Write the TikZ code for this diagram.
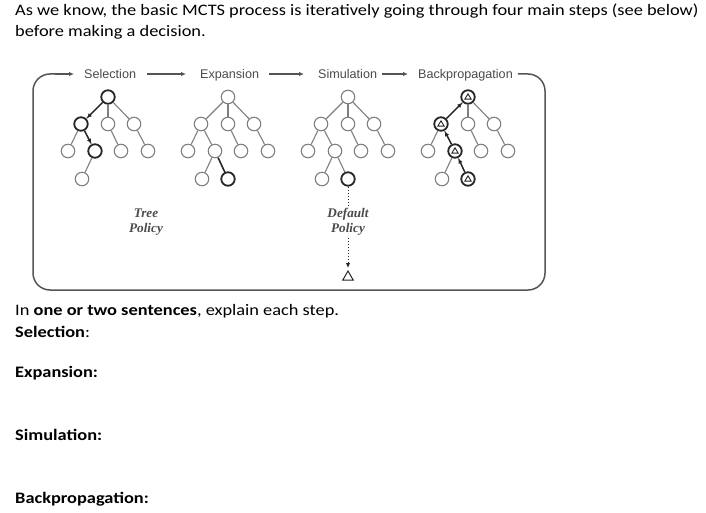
\documentclass[tikz,border=0pt]{standalone}
\usepackage{fontspec}
\setmainfont{Carlito}[FakeStretch=1.148]
\newfontfamily\labfont{Liberation Sans}
\newfontfamily\polfont{Liberation Serif}
\usetikzlibrary{arrows.meta,shapes.geometric}
\definecolor{framegray}{HTML}{555555}
\definecolor{nodegray}{HTML}{808080}
\definecolor{labgray}{HTML}{4A4A4A}
\tikzset{
  tn/.style={circle,draw=nodegray,line width=1.1pt,minimum size=13.5pt,inner sep=0pt,fill=white},
  tb/.style={circle,draw=black!85,line width=1.8pt,minimum size=13.5pt,inner sep=0pt,fill=white},
  te/.style={draw=nodegray,line width=1.1pt},
  tbe/.style={draw=black!85,line width=1.6pt},
  tarr/.style={draw=black!85,line width=1.4pt,-{Latex[length=5pt,width=4.5pt]}},
  frame/.style={draw=framegray,line width=1.5pt},
  farr/.style={draw=framegray,line width=1.3pt,-{Latex[length=5pt,width=4.5pt]}},
  lab/.style={font=\labfont\fontsize{12.6}{14}\selectfont,text=labgray,inner sep=0pt,anchor=base west},
  pol/.style={font=\polfont\bfseries\itshape\fontsize{13.2}{15}\selectfont,text=labgray,align=center,inner sep=1pt},
  txt/.style={font=\fontsize{16}{19}\selectfont,inner sep=0pt,anchor=base west},
  tri/.style={draw=black!85,line width=0.9pt}
}
\newcommand\mtree[5]{%
  \node[#3] (#1r) at (#2,97) {};
  \node[#4] (#1a) at (#2-27,124) {};
  \node[tn] (#1b) at (#2,124) {};
  \node[tn] (#1c) at (#2+26,124) {};
  \node[tn] (#1d) at (#2-40,151) {};
  \node[#5] (#1e) at (#2-13,151) {};
  \node[tn] (#1f) at (#2+13,151) {};
  \node[tn] (#1g) at (#2+40,151) {};
  \node[tn] (#1h) at (#2-26,179) {};
  \draw[te] (#1r) -- (#1a);
  \draw[te] (#1r) -- (#1b);
  \draw[te] (#1r) -- (#1c);
  \draw[te] (#1a) -- (#1d);
  \draw[te] (#1a) -- (#1e);
  \draw[te] (#1b) -- (#1f);
  \draw[te] (#1c) -- (#1g);
  \draw[te] (#1e) -- (#1h);
}
\newcommand\intri[1]{\draw[tri] ([yshift=3.2pt]#1.center) -- ++(3.2,5.4) -- ++(-6.4,0) -- cycle;}
\begin{document}
\begin{tikzpicture}[x=1pt,y=-1pt]
\useasboundingbox (0,0) rectangle (706,513);
% main text
\node[txt] (t1) at (15,16) {As we know, the basic MCTS process is iteratively going through four main steps (see below)};
\node[txt] (t2) at (15,37) {before making a decision.};
\node[txt] (t3) at (15,315) {In \textbf{one or two sentences}, explain each step.};
\node[txt] (t4) at (15,337) {\textbf{Selection}:};
\node[txt] (t5) at (15,377) {\textbf{Expansion:}};
\node[txt] (t6) at (15,440) {\textbf{Simulation:}};
\node[txt] (t7) at (15,503) {\textbf{Backpropagation:}};
% labels
\node[lab] (lsel) at (84,78.5) {Selection};
\node[lab] (lexp) at (200,78.5) {Expansion};
\node[lab] (lsim) at (318,78.5) {Simulation};
\node[lab] (lbak) at (418,78.5) {Backpropagation};
\draw[farr] ([xshift=11pt,yshift=4.5pt]lsel.base east) -- ([xshift=-14pt,yshift=4.5pt]lexp.base west);
\draw[farr] ([xshift=10pt,yshift=4.5pt]lexp.base east) -- ([xshift=-14pt,yshift=4.5pt]lsim.base west);
\draw[farr] ([xshift=5pt,yshift=4.5pt]lsim.base east) -- ([xshift=-10pt,yshift=4.5pt]lbak.base west);
\draw[frame,rounded corners=17pt] ([xshift=5pt,yshift=4.5pt]lbak.base east) -- (545,74) -- (545,290) -- (33,290) -- (33,74) -- (60,74);
\draw[farr] (55,74) -- ([xshift=-10pt,yshift=4.5pt]lsel.base west);
% selection tree
\mtree{s}{108}{tb}{tb}{tb}
\draw[tarr,shorten >=0.5pt] (sr) -- (sa);
\draw[tarr,shorten >=0.5pt] (sa) -- (se);
% expansion tree
\mtree{x}{228}{tn}{tn}{tn}
\draw[tbe] (xe) -- (228,179);
\node[tb] (xi) at (228,179) {};
% simulation tree
\mtree{m}{348}{tn}{tn}{tn}
\node[tb] (mi) at (348,179) {};
\draw[te] (me) -- (mi);
\node[regular polygon,regular polygon sides=3,draw=black!85,line width=1pt,minimum size=12pt,inner sep=0pt] (term) at (348,277) {};
\draw[draw=black!85,line width=1pt,dotted,-{Latex[length=5pt,width=4.5pt]},shorten >=2pt] (mi) -- (term);
\node[pol,fill=white] (dp) at (348,222) {Default\\Policy};
\node[pol] (tp) at (146,222) {Tree\\Policy};
% backpropagation tree
\mtree{b}{468}{tb}{tb}{tb}
\node[tb] (bi) at (468,179) {};
\draw[te] (be) -- (bi);
\draw[tarr,shorten >=0.5pt] (bi) -- (be);
\draw[tarr,shorten >=0.5pt] (be) -- (ba);
\draw[tarr,shorten >=0.5pt] (ba) -- (br);
\intri{br}\intri{ba}\intri{be}\intri{bi}
\end{tikzpicture}
\end{document}
